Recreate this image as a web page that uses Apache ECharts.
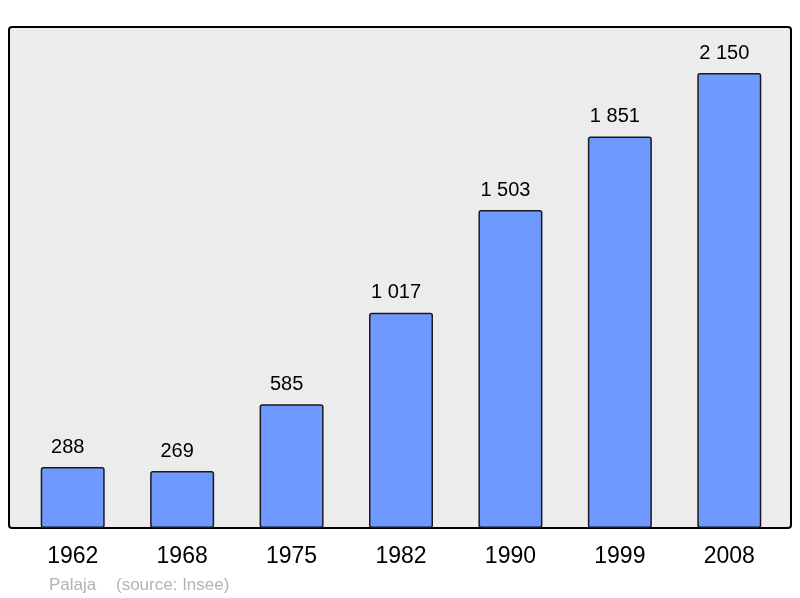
<!DOCTYPE html>
<html>
<head>
<meta charset="utf-8">
<script src="https://cdn.jsdelivr.net/npm/echarts@6/dist/echarts.min.js"></script>
<style>
  html, body { margin: 0; padding: 0; background: #fff; }
  #chart { width: 800px; height: 598px; }
</style>
</head>
<body>
<div id="chart"></div>
<script>
// population data
var years = ['1962', '1968', '1975', '1982', '1990', '1999', '2008'];
var population = [288, 269, 585, 1017, 1503, 1851, 2150];

function fmt(v) {
    return String(v).replace(/\B(?=(\d{3})+(?!\d))/g, ' ');
}

var chart = echarts.init(document.getElementById('chart'));
var option = {
    animation: false,
    textStyle: { fontFamily: 'Liberation Sans, Arial, sans-serif' },
    graphic: [
        {
            type: 'rect',
            z: 0,
            shape: { x: 9, y: 27, width: 782, height: 501, r: 3 },
            style: { fill: '#ececec', stroke: '#000', lineWidth: 2 }
        },
        {
            type: 'text',
            left: 49,
            top: 577,
            style: {
                text: 'Palaja',
                fill: '#b3b3b3',
                font: '17px "Liberation Sans", Arial, sans-serif'
            }
        },
        {
            type: 'text',
            left: 116,
            top: 577,
            style: {
                text: '(source: Insee)',
                fill: '#b3b3b3',
                font: '17px "Liberation Sans", Arial, sans-serif'
            }
        }
    ],
    grid: { left: 18, right: 16, top: 27, bottom: 70 },
    xAxis: {
        type: 'category',
        data: years,
        axisLine: { show: false },
        axisTick: { show: false },
        axisLabel: { color: '#000', fontSize: 23, margin: 17 }
    },
    yAxis: {
        type: 'value',
        min: 0,
        max: 2368,
        show: false,
        splitLine: { show: false }
    },
    series: [{
        type: 'bar',
        data: population,
        barWidth: 64,
        itemStyle: {
            color: '#7099ff',
            borderColor: '#1a1a1a',
            borderWidth: 1.5,
            borderRadius: 2
        },
        label: {
            show: true,
            position: 'top',
            distance: 10,
            offset: [-5, 0],
            color: '#000',
            fontSize: 20,
            formatter: function (p) { return fmt(p.value); }
        }
    }]
};
chart.setOption(option);
</script>
</body>
</html>
